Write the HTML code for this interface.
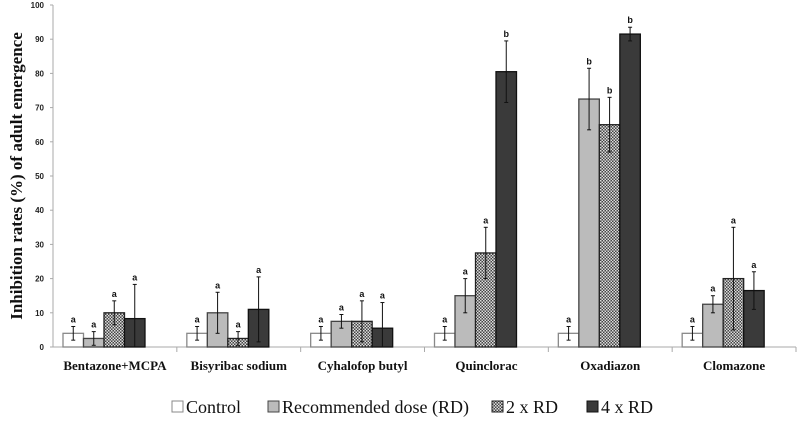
<!DOCTYPE html>
<html><head><meta charset="utf-8"><style>
body{margin:0;background:#fff;width:800px;height:417px;overflow:hidden}
</style></head><body>
<svg id="chart" width="800" height="417" xmlns="http://www.w3.org/2000/svg">
<defs>
<pattern id="chk" width="3" height="3" patternUnits="userSpaceOnUse">
<rect width="3" height="3" fill="#444"/><rect width="1.5" height="1.5" fill="#ddd"/><rect x="1.5" y="1.5" width="1.5" height="1.5" fill="#ddd"/>
</pattern>
</defs>
<g id="plot"></g>
</svg>
<script>
const categories=["Bentazone+MCPA","Bisyribac sodium","Cyhalofop butyl","Quinclorac","Oxadiazon","Clomazone"];
const seriesNames=["Control","Recommended dose (RD)","2 x RD","4 x RD"];
const control=[4,4,4,4,4,4];
const rd=[2.5,10,7.5,15,72.5,12.5];
const rd2=[10,2.5,7.5,27.5,65,20];
const rd4=[8.3,11,5.5,80.5,91.5,16.5];
const errControl=[2,2,2,2,2,2];
const errRd=[2,6,2,5,9,2.5];
const errRd2=[3.5,2,6,7.5,8,15];
const errRd4=[10,9.5,7.5,9,2,5.5];
const lettersControl=["a","a","a","a","a","a"];
const lettersRd=["a","a","a","a","b","a"];
const lettersRd2=["a","a","a","a","b","a"];
const lettersRd4=["a","a","a","b","b","a"];
const yTicks=[0,10,20,30,40,50,60,70,80,90,100];

const NS="http://www.w3.org/2000/svg";
const g=document.getElementById("plot");
const x0=53,x1=796,yBase=347,yTop=5;
const y=v=>yBase-(v/100)*(yBase-yTop);
const gw=(x1-x0)/categories.length;
function mk(t,a,p){const e=document.createElementNS(NS,t);for(const k in a)e.setAttribute(k,a[k]);(p||g).appendChild(e);return e;}
let ax=mk("line",{x1:x0,y1:yTop,x2:x0,y2:yBase,stroke:"#aaa"});


let bx=mk("line",{x1:x0,y1:yBase,x2:x1,y2:yBase,stroke:"#aaa"});


yTicks.forEach(t=>{
 mk("line",{x1:x0-3,y1:y(t),x2:x0,y2:y(t),stroke:"#aaa"});
 const tx=mk("text",{x:x0-9,y:y(t)+3,"text-anchor":"end","font-family":"Liberation Sans, sans-serif","font-size":"8","font-weight":"bold",fill:"#222"});
 tx.textContent=t;
 
 
});
const yt=mk("text",{transform:"translate(22,176) rotate(-90)","text-anchor":"middle","font-family":"Liberation Serif, serif","font-size":"17","font-weight":"bold",fill:"#111"});
yt.textContent="Inhibition rates (%) of adult emergence";


const series=[control,rd,rd2,rd4],errs=[errControl,errRd,errRd2,errRd4],lets=[lettersControl,lettersRd,lettersRd2,lettersRd4];
const fills=["#fff","#bbb","url(#chk)","#3a3a3a"],strokes=["#888","#444","#222","#111"];
const bw=20.5;
categories.forEach((c,i)=>{
 const gx=x0+i*gw;
 mk("line",{x1:gx+gw,y1:yBase,x2:gx+gw,y2:yBase+5,stroke:"#aaa"});
 const cl=mk("text",{x:gx+gw/2,y:370,"text-anchor":"middle","font-family":"Liberation Serif, serif","font-size":"13","font-weight":"bold",fill:"#111"});
 cl.textContent=c;
 
 
 series.forEach((s,j)=>{
  const bx0=gx+10+j*bw,v=s[i],e=errs[j][i];
  const r=mk("rect",{x:bx0,y:y(v),width:bw,height:yBase-y(v),fill:fills[j],stroke:strokes[j],"stroke-width":"1.3"});
  
  
  const cx=bx0+bw/2,hi=y(v+e),lo=y(Math.max(0,v-e));
  mk("line",{x1:cx,y1:hi,x2:cx,y2:lo,stroke:"#111"});
  mk("line",{x1:cx-2,y1:hi,x2:cx+2,y2:hi,stroke:"#111"});
  mk("line",{x1:cx-2,y1:lo,x2:cx+2,y2:lo,stroke:"#111"});
  const lt=mk("text",{x:cx,y:hi-4,"text-anchor":"middle","font-family":"Liberation Sans, sans-serif","font-size":"9","font-weight":"bold",fill:"#111"});
  lt.textContent=lets[j][i];
  
  
 });
});
const lx=[172,268,492,587];
seriesNames.forEach((n,j)=>{
 const sw=mk("rect",{x:lx[j],y:401,width:11,height:11,fill:fills[j],stroke:strokes[j]});
 
 
 const t=mk("text",{x:lx[j]+14,y:413,"font-family":"Liberation Serif, serif","font-size":"18",fill:"#111"});
 t.textContent=n;
 
 
});
</script>
</body></html>
